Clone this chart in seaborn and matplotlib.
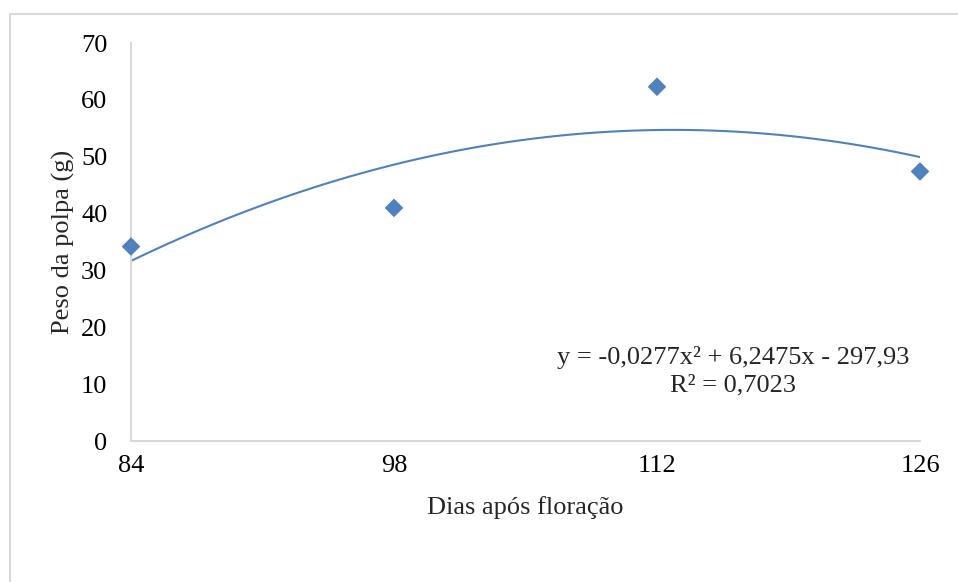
import matplotlib
matplotlib.use("Agg")
import matplotlib.pyplot as plt
import matplotlib.patches as mpatches
import seaborn as sns
import pandas as pd

# Data
dias = [84, 98, 112, 126]
peso = [34.2, 41.0, 62.3, 47.4]
x_ticks = [84, 98, 112, 126]
y_ticks = [0, 10, 20, 30, 40, 50, 60, 70]
equation = "y = -0,0277x² + 6,2475x - 297,93\nR² = 0,7023"

sns.set_theme(style="white")
plt.rcParams['font.family'] = ['Liberation Serif', 'DejaVu Serif']

W, H = 958, 582
fig = plt.figure(figsize=(W / 100, H / 100), dpi=100)
ax = fig.add_axes([131 / W, 1 - 441 / H, 789 / W, 398 / H])

df = pd.DataFrame({"dias": dias, "peso": peso})
blue = "#4F81BD"

sns.regplot(data=df, x="dias", y="peso", order=2, ci=None, scatter=False,
            truncate=True, ax=ax, line_kws=dict(color=blue, lw=1.5))
sns.scatterplot(data=df, x="dias", y="peso", marker="D", s=90, color=blue,
                edgecolor="none", ax=ax, clip_on=False, zorder=5)

ax.set_xlim(84, 126)
ax.set_ylim(0, 70)
ax.set_xticks(x_ticks)
ax.set_yticks(y_ticks)
ax.tick_params(axis="both", length=0, labelsize=19, colors="#000000")
ax.tick_params(axis="y", pad=17)
ax.tick_params(axis="x", pad=10)

for side in ["top", "right"]:
    ax.spines[side].set_visible(False)
for side in ["left", "bottom"]:
    ax.spines[side].set_color("#D9D9D9")
    ax.spines[side].set_linewidth(1.5)

ax.set_xlabel("Dias após floração", fontsize=19, labelpad=14)
ax.set_ylabel("Peso da polpa (g)", fontsize=19, labelpad=4)

ax.text(0.763, 0.176, equation, transform=ax.transAxes, ha="center",
        va="center", fontsize=19, linespacing=1.3)

rect = mpatches.Rectangle((10 / W, -0.2), 2, 1 - 14 / H + 0.2,
                          transform=fig.transFigure, fill=False,
                          edgecolor="#D9D9D9", lw=1.5)
fig.patches.append(rect)

fig.savefig("out.png", dpi=100)
